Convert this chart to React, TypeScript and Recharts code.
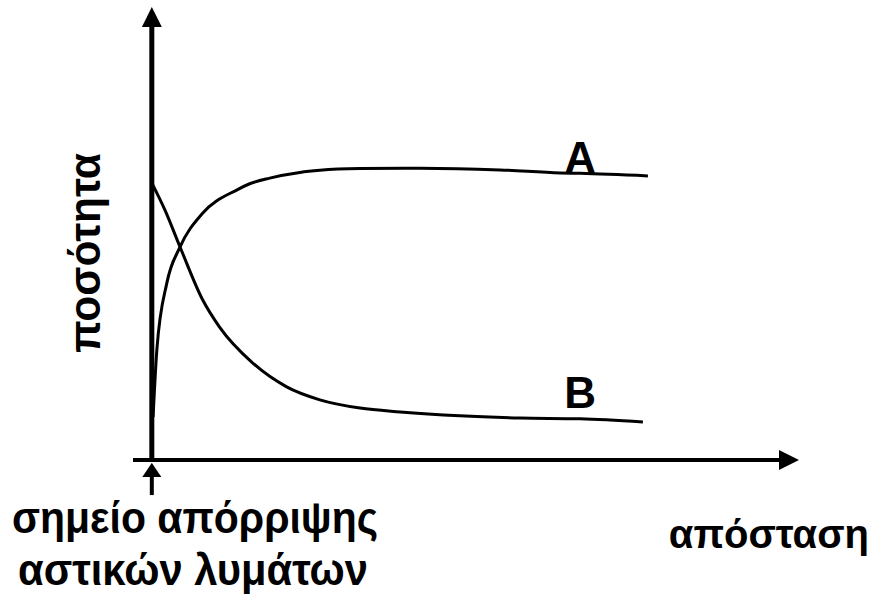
import React from "react";
import { LineChart, Line, XAxis, YAxis, ReferenceLine } from "recharts";

// distance from the discharge point (arbitrary units) and amount (arbitrary units)
const distanceA = [0.2, 0.8, 2.4, 4.5, 8.1, 13.6, 15.6, 18.8, 23.6, 26.8, 33.2, 42.7, 55.5, 65.1, 68.3, 79.1];
const amountA = [9.9, 25.4, 40.9, 49.2, 57.0, 62.4, 63.8, 65.1, 66.4, 66.9, 67.3, 67.4, 67.0, 66.3, 66.2, 65.6];

const distanceB = [0, 2.1, 4.5, 8.1, 10.8, 16.1, 21.5, 26.8, 33.2, 39.6, 49.1, 58.7, 68.3, 78.3];
const amountB = [64.0, 57.7, 49.2, 37.0, 30.7, 22.4, 16.9, 13.9, 12.0, 11.1, 10.2, 9.7, 9.5, 8.8];

const labelA = "A";
const labelB = "B";
const labelIndexA = 14;
const labelIndexB = 12;

const xTitle = "απόσταση";
const yTitle = "ποσότητα";
const originTitle = ["σημείο απόρριψης", "αστικών λυμάτων"];

const dataA = distanceA.map((d, i) => ({ d, v: amountA[i] }));
const dataB = distanceB.map((d, i) => ({ d, v: amountB[i] }));

const font = "'Liberation Sans', Arial, sans-serif";

const curveLabel = (text: string, at: number, dy: number) => (p: any) => {
  if (p.index !== at) return null;
  return (
    <text
      x={p.x}
      y={p.y + dy}
      textAnchor="middle"
      fontFamily={font}
      fontWeight="bold"
      fontSize={44}
      fill="#000"
    >
      {text}
    </text>
  );
};

export default function App() {
  return (
    <div style={{ position: "absolute", left: 0, top: 0, width: 875, height: 594, background: "#fff" }}>
      {/* arrow heads shared by the axes */}
      <svg width={0} height={0} style={{ position: "absolute" }}>
        <defs>
          <marker id="arrowBig" viewBox="0 0 20 20" markerWidth={20} markerHeight={20} refX={0} refY={10} orient="auto" markerUnits="userSpaceOnUse">
            <path d="M0,0 L20,10 L0,20 Z" fill="#000" />
          </marker>
          <marker id="arrowSmall" viewBox="0 0 14 19" markerWidth={14} markerHeight={19} refX={0} refY={9.5} orient="auto" markerUnits="userSpaceOnUse">
            <path d="M0,0 L14,9.5 L0,19 Z" fill="#000" />
          </marker>
        </defs>
      </svg>

      <LineChart width={875} height={594} data={dataA} margin={{ top: 27, right: 96, bottom: 134, left: 133 }}>
        <XAxis type="number" dataKey="d" domain={[-3, 100]} allowDataOverflow hide />
        <YAxis type="number" domain={[0, 100]} allowDataOverflow hide />

        <ReferenceLine
          segment={[{ x: -3, y: 0 }, { x: 100, y: 0 }]}
          stroke="#000"
          strokeWidth={4}
          ifOverflow="visible"
          markerEnd="url(#arrowBig)"
        />
        <ReferenceLine
          segment={[{ x: 0, y: 0 }, { x: 0, y: 100 }]}
          stroke="#000"
          strokeWidth={5}
          ifOverflow="visible"
          markerEnd="url(#arrowBig)"
        />
        <ReferenceLine
          segment={[{ x: 0, y: -8.1 }, { x: 0, y: -3.9 }]}
          stroke="#000"
          strokeWidth={4}
          ifOverflow="visible"
          markerEnd="url(#arrowSmall)"
        />

        <Line
          data={dataA}
          dataKey="v"
          type="monotone"
          stroke="#000"
          strokeWidth={3}
          dot={false}
          activeDot={false}
          isAnimationActive={false}
          label={curveLabel(labelA, labelIndexA, 0)}
        />
        <Line
          data={dataB}
          dataKey="v"
          type="monotone"
          stroke="#000"
          strokeWidth={3}
          dot={false}
          activeDot={false}
          isAnimationActive={false}
          label={curveLabel(labelB, labelIndexB, -11)}
        />
      </LineChart>

      <svg width={875} height={594} style={{ position: "absolute", left: 0, top: 0, pointerEvents: "none" }}>
        <g fontFamily={font} fontWeight="bold" fontSize={44} fill="#000">
          <text x={100} y={253} textAnchor="middle" transform="rotate(-90 100 253)" textLength={200} lengthAdjust="spacingAndGlyphs">
            {yTitle}
          </text>
          <text x={12} y={533} textLength={366} lengthAdjust="spacingAndGlyphs">
            {originTitle[0]}
          </text>
          <text x={18} y={585} textLength={350} lengthAdjust="spacingAndGlyphs">
            {originTitle[1]}
          </text>
          <text x={869} y={548} fontSize={40} textAnchor="end">
            {xTitle}
          </text>
        </g>
      </svg>
    </div>
  );
}
